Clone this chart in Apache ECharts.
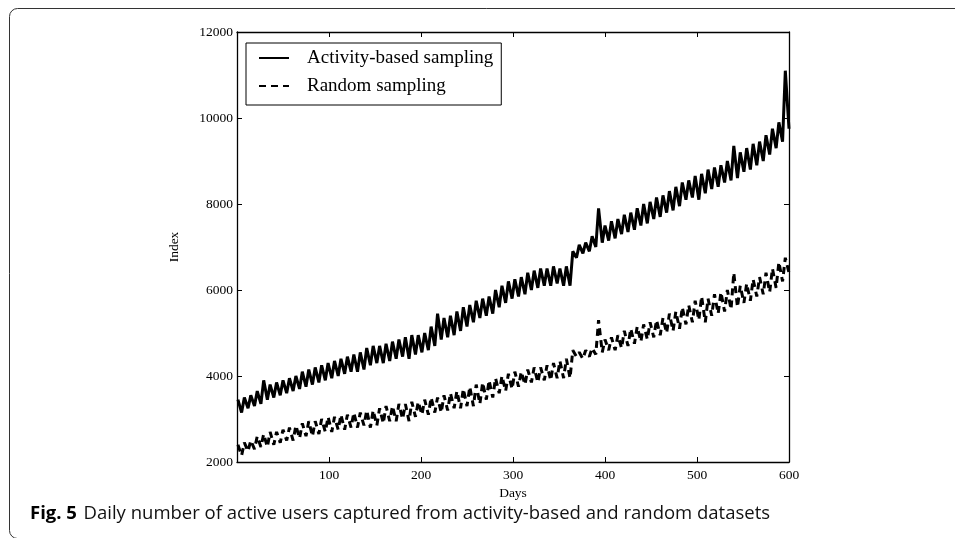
<!DOCTYPE html>
<html>
<head>
<meta charset="utf-8">
<script src="https://cdn.jsdelivr.net/npm/echarts@6/dist/echarts.min.js"></script>
<style>
html,body{margin:0;padding:0;background:#fff;}
#c{width:955px;height:538px;}
</style>
</head>
<body>
<div id="c"></div>
<script>
// Weekly readings (week i covers days 7i .. 7i+6): weekday peak and weekend low
const peakDayOffset = 1;
const lowDayOffset = 5;
const actPeak = [3450,3500,3550,3650,3900,3800,3850,3900,3950,4000,4100,4150,4200,4250,4300,4350,4400,4450,4500,4550,
  4650,4700,4700,4750,4800,4850,4900,4950,4950,5000,5150,5450,5350,5400,5500,5600,5650,5750,5800,5850,
  6000,6100,6200,6250,6300,6400,6450,6500,6500,6550,6500,6550,6900,7050,7100,7250,7900,7500,7600,7650,
  7750,7800,7900,8000,8050,8150,8200,8300,8400,8500,8550,8650,8700,8800,8850,8900,9000,9350,9200,9300,
  9400,9450,9600,9750,9900,11100];
const actLow = [3150,3250,3300,3350,3450,3500,3550,3600,3650,3700,3750,3800,3850,3900,3950,4000,4050,4100,4100,4150,
  4250,4300,4300,4350,4400,4450,4400,4500,4550,4600,4700,4850,4900,4950,5050,5150,5250,5350,5400,5450,
  5600,5700,5800,5850,5900,6000,6050,6100,6100,6150,6100,6100,6750,6850,6900,7000,7100,7150,7200,7300,
  7350,7400,7500,7550,7650,7700,7800,7850,7950,8100,8150,8100,8250,8350,8400,8500,8550,8600,8750,8800,
  8900,9000,9150,9300,9450,9750];
const rndPeak = [2400,2450,2500,2600,2650,2700,2700,2750,2800,2850,2900,2950,2950,3000,3050,3050,3100,3100,3150,3150,
  3200,3200,3250,3300,3300,3350,3350,3400,3400,3450,3500,3500,3550,3600,3650,3700,3750,3800,3850,3900,
  3950,4000,4050,4100,4100,4150,4200,4200,4250,4300,4350,4400,4600,4550,4600,4650,5300,4850,4900,4950,
  5050,5100,5150,5200,5250,5300,5350,5450,5500,5600,5650,5750,5850,5800,5900,5950,6000,6400,6100,6150,
  6250,6300,6400,6500,6650,6750];
const rndLow = [2150,2250,2300,2350,2350,2400,2450,2500,2500,2550,2600,2600,2650,2700,2700,2750,2750,2800,2800,2850,
  2800,2850,2900,2950,2950,3000,2950,3050,3100,3100,3150,3150,3200,3250,3250,3300,3300,3350,3450,3500,
  3600,3650,3700,3750,3800,3850,3850,3900,3900,3950,3950,3950,4450,4400,4450,4500,4550,4600,4600,4650,
  4700,4750,4800,4850,4900,4950,5000,5050,5100,5200,5250,5300,5250,5400,5450,5500,5550,5600,5700,5750,
  5850,5900,5950,6050,6200,6400];
const xTicks = [0,100,200,300,400,500,600];
const yTicks = [2000,4000,6000,8000,10000,12000];
const seriesNames = ['Activity-based sampling','Random sampling'];

function build(peaks, lows){
  const out = [];
  for (let i = 0; i < peaks.length; i++){
    out.push([7*i + peakDayOffset, peaks[i]]);
    out.push([7*i + lowDayOffset, lows[i]]);
  }
  return out;
}

const serif = 'Liberation Serif';
const chart = echarts.init(document.getElementById('c'));
const axisCommon = {
  axisLine:{show:true, onZero:false, lineStyle:{color:'#000', width:1.3}},
  axisTick:{show:true, inside:true, length:5, lineStyle:{color:'#000', width:1}},
  splitLine:{show:false}
};
chart.setOption({
  animation:false,
  backgroundColor:'#fff',
  grid:{left:237, right:166, top:32, bottom:76, show:false},
  xAxis:[
    Object.assign({type:'value', min:xTicks[0], max:xTicks[xTicks.length-1], interval:100, position:'bottom',
      name:'Days', nameLocation:'middle', nameGap:24,
      nameTextStyle:{fontFamily:serif, fontSize:13.5, color:'#000'},
      axisLabel:{fontFamily:serif, fontSize:13.5, color:'#000', margin:6,
        formatter:v=> v===0 ? '' : String(v)}}, axisCommon),
    Object.assign({type:'value', min:xTicks[0], max:xTicks[xTicks.length-1], interval:100, position:'top',
      axisLabel:{show:false}}, axisCommon)
  ],
  yAxis:[
    Object.assign({type:'value', min:yTicks[0], max:yTicks[yTicks.length-1], interval:2000, position:'left',
      name:'Index', nameLocation:'middle', nameGap:56, nameRotate:90,
      nameTextStyle:{fontFamily:serif, fontSize:13.5, color:'#000'},
      axisLabel:{fontFamily:serif, fontSize:13.5, color:'#000', margin:4, formatter:v=>String(v)}}, axisCommon),
    Object.assign({type:'value', min:yTicks[0], max:yTicks[yTicks.length-1], interval:2000, position:'right',
      axisLabel:{show:false}}, axisCommon)
  ],
  legend:{
    left:246, top:43, orient:'vertical',
    data:seriesNames,
    itemWidth:30, itemHeight:14, itemGap:8,
    padding:[5,8,9,12],
    borderColor:'#000', borderWidth:1, borderRadius:0,
    itemStyle:{opacity:0},
    textStyle:{fontFamily:serif, fontSize:19, lineHeight:20, color:'#000', padding:[0,0,0,13]}
  },
  series:[
    {name:seriesNames[0], type:'line', data:build(actPeak, actLow), symbol:'none',
      lineStyle:{color:'#000', width:3}, itemStyle:{color:'#000'}},
    {name:seriesNames[1], type:'line', data:build(rndPeak, rndLow), symbol:'none',
      lineStyle:{color:'#000', width:3, type:[7,5]}, itemStyle:{color:'#000'}}
  ],
  graphic:[
    {type:'rect', shape:{x:9.5, y:8.5, width:1000, height:530, r:8}, style:{fill:'none', stroke:'#333', lineWidth:1}},
    {type:'text', left:30, top:504, style:{
      rich:{b:{fontFamily:'Open Sans', fontWeight:'bold', fontSize:18.5, fill:'#000'},
            n:{fontFamily:'Open Sans', fontSize:18.5, fill:'#111'}},
      text:'{b|Fig. 5}  {n|Daily number of active users captured from activity-based and random datasets}'}}
  ]
});
</script>
</body>
</html>
